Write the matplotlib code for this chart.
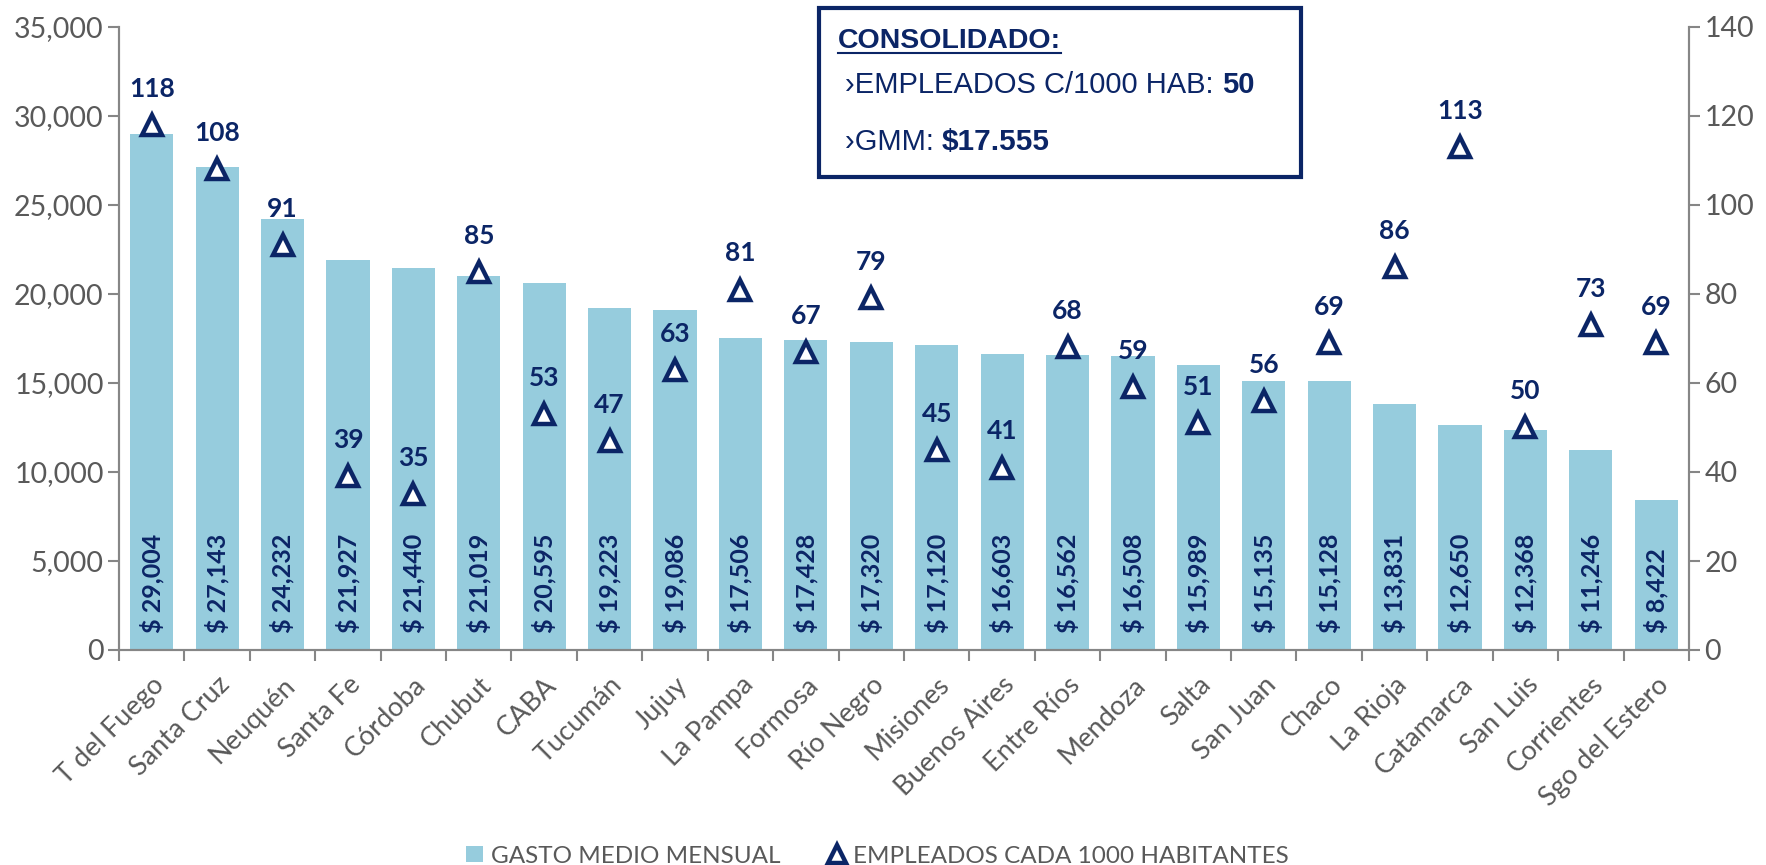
import matplotlib
matplotlib.use('Agg')
import matplotlib.pyplot as plt
from matplotlib.patches import Rectangle
from matplotlib.lines import Line2D
from matplotlib.transforms import IdentityTransform
import numpy as np

provincias = ["T del Fuego", "Santa Cruz", "Neuquén", "Santa Fe", "Córdoba", "Chubut",
              "CABA", "Tucumán", "Jujuy", "La Pampa", "Formosa", "Río Negro", "Misiones",
              "Buenos Aires", "Entre Ríos", "Mendoza", "Salta", "San Juan", "Chaco",
              "La Rioja", "Catamarca", "San Luis", "Corrientes", "Sgo del Estero"]
gasto = [29004, 27143, 24232, 21927, 21440, 21019, 20595, 19223, 19086, 17506, 17428,
         17320, 17120, 16603, 16562, 16508, 15989, 15135, 15128, 13831, 12650, 12368,
         11246, 8422]
empleados = [118, 108, 91, 39, 35, 85, 53, 47, 63, 81, 67, 79, 45, 41, 68, 59, 51, 56,
             69, 86, 113, 50, 73, 69]

NAVY = '#0B2566'
BAR = '#96CCDD'
GREY = '#595959'
SPINE = '#868686'

plt.rcParams['font.family'] = ['Lato', 'DejaVu Sans']

W, H = 1766, 865
fig = plt.figure(figsize=(W / 100, H / 100), dpi=100)
ax = fig.add_axes([119 / W, 1 - 650 / H, (1689 - 119) / W, (650 - 27) / H])
ax2 = ax.twinx()

x = np.arange(len(provincias))
ax.bar(x, gasto, width=0.66, color=BAR, label='GASTO MEDIO MENSUAL', zorder=2)
for xi, v in zip(x, gasto):
    ax.annotate(f"$ {v:,}", (xi, 0), xytext=(0, 12), textcoords='offset points',
                rotation=90, ha='center', va='bottom', color=NAVY,
                fontsize=18, fontweight='bold', zorder=3)

ax2.plot(x, empleados, ls='none', marker='^', ms=15, mfc='white', mec=NAVY, mew=3.2,
         label='EMPLEADOS CADA 1000 HABITANTES', zorder=4)
for xi, v in zip(x, empleados):
    ax2.annotate(str(v), (xi, v), xytext=(0, 26), textcoords='offset points',
                 ha='center', va='center', color=NAVY, fontsize=19, fontweight='bold')

ax.set_xlim(-0.5, len(provincias) - 0.5)
ax.set_ylim(0, 35000)
ax2.set_ylim(0, 140)
ax.set_yticks(np.arange(0, 35001, 5000))
ax.set_yticklabels([f"{v:,}" for v in range(0, 35001, 5000)])
ax2.set_yticks(np.arange(0, 141, 20))

ax.set_xticks(x)
ax.set_xticklabels(provincias, rotation=45, ha='right', rotation_mode='anchor')
ax.set_xticks(np.arange(-0.5, len(provincias)), minor=True)
ax.tick_params(axis='x', which='major', length=0, pad=16, labelsize=19.5, labelcolor=GREY)
ax.tick_params(axis='x', which='minor', length=8, width=1.5, color=SPINE)
ax.tick_params(axis='y', length=8, width=1.5, color=SPINE, labelsize=20.5, labelcolor=GREY, pad=3)
ax2.tick_params(axis='y', length=8, width=1.5, color=SPINE, labelsize=20.5, labelcolor=GREY, pad=3)

for a in (ax, ax2):
    a.spines['top'].set_visible(False)
    for s in ('left', 'right', 'bottom'):
        a.spines[s].set_color(SPINE)
        a.spines[s].set_linewidth(1.5)

h1, l1 = ax.get_legend_handles_labels()
h2, l2 = ax2.get_legend_handles_labels()
fig.legend(h1 + h2, l1 + l2, loc='center', bbox_to_anchor=(0.497, 0.0104), ncol=2,
           frameon=False, fontsize=17.5, labelcolor=GREY,
           handlelength=0.7, handleheight=0.65, handletextpad=0.3, columnspacing=2.0,
           markerscale=0.85, borderpad=0)

# caja "CONSOLIDADO"
fig.add_artist(Rectangle((819 / W, 1 - 177 / H), 482 / W, 169 / H, transform=fig.transFigure,
                         facecolor='white', edgecolor=NAVY, lw=3, zorder=5))
box_font = ['Liberation Sans', 'DejaVu Sans']
t0 = fig.text(838 / W, 1 - 48 / H, "CONSOLIDADO:", family=box_font, fontsize=20.5,
              fontweight='bold', color=NAVY, va='baseline', zorder=6)
t1 = fig.text(845 / W, 1 - 93 / H, "›EMPLEADOS C/1000 HAB: ", family=box_font, fontsize=21,
              color=NAVY, va='baseline', zorder=6)
t2 = fig.text(845 / W, 1 - 150 / H, "›GMM: ", family=box_font, fontsize=21,
              color=NAVY, va='baseline', zorder=6)

fig.canvas.draw()
r = fig.canvas.get_renderer()
b0 = t0.get_window_extent(r)
fig.add_artist(Line2D([b0.x0, b0.x1], [b0.y0 + 1, b0.y0 + 1], transform=IdentityTransform(),
                      color=NAVY, lw=1.5, zorder=6))
b1 = t1.get_window_extent(r)
fig.text(b1.x1 / W, 1 - 93 / H, "50", family=box_font, fontsize=21, fontweight='bold',
         color=NAVY, va='baseline', zorder=6)
b2 = t2.get_window_extent(r)
fig.text(b2.x1 / W, 1 - 150 / H, "$17.555", family=box_font, fontsize=21.5, fontweight='bold',
         color=NAVY, va='baseline', zorder=6)

fig.savefig('out.png', dpi=100)
